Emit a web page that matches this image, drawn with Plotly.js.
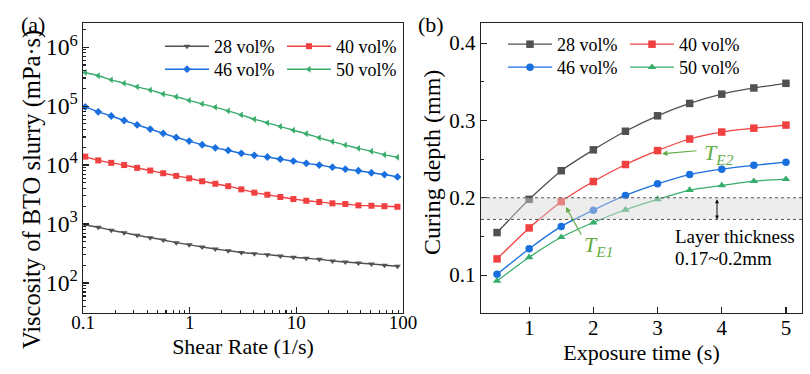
<!DOCTYPE html>
<html>
<head>
<meta charset="utf-8">
<script src="https://cdn.plot.ly/plotly-3.0.1.min.js"></script>
<style>html,body{margin:0;padding:0;background:#fff;}#chart{width:810px;height:374px;}</style>
</head>
<body>
<div id="chart"></div>
<script>
// ---------- Panel (a): viscosity vs shear rate ----------
const seriesNames = ["28 vol%", "40 vol%", "46 vol%", "50 vol%"];
const shearRate = [0.105, 0.139, 0.184, 0.243, 0.322, 0.427, 0.565, 0.748, 0.99, 1.31, 1.74, 2.30, 3.05, 4.04, 5.35, 7.08, 9.38, 12.4, 16.4, 21.8, 28.8, 38.2, 50.6, 67.0, 88.7];
const visc28 = [973, 879, 782, 713, 643, 586, 536, 482, 446, 407, 377, 352, 329, 314, 302, 287, 273, 262, 252, 236, 227, 218, 210, 200, 192];
const visc40 = [13900, 12000, 10900, 10000, 8970, 8070, 7260, 6560, 5960, 5310, 4820, 4380, 3870, 3400, 3140, 2870, 2650, 2480, 2360, 2240, 2180, 2070, 2040, 2000, 1960];
const visc46 = [97000, 80000, 68000, 57000, 48000, 40700, 34400, 29400, 25500, 22100, 19600, 17700, 15800, 14600, 13700, 12600, 11700, 10700, 10000, 9200, 8500, 8000, 7400, 6900, 6300];
const visc50 = [372000, 327000, 279000, 245000, 212000, 187000, 161000, 144000, 125000, 109000, 96000, 83000, 71000, 60000, 52000, 45000, 39000, 34000, 29000, 25000, 21800, 19200, 17100, 15000, 13500];

// ---------- Panel (b): curing depth vs exposure time ----------
const exposureTime = [0.5, 1, 1.5, 2, 2.5, 3, 3.5, 4, 4.5, 5];
const depth28 = [0.155, 0.198, 0.235, 0.262, 0.286, 0.306, 0.322, 0.334, 0.342, 0.348];
const depth40 = [0.121, 0.161, 0.195, 0.221, 0.243, 0.261, 0.276, 0.285, 0.290, 0.294];
const depth46 = [0.101, 0.134, 0.163, 0.184, 0.203, 0.218, 0.230, 0.237, 0.242, 0.246];
const depth50 = [0.0925, 0.123, 0.149, 0.168, 0.1845, 0.198, 0.210, 0.216, 0.2215, 0.224];
const layerThickness = [0.172, 0.2];

const colors = ["#515151", "#F14040", "#1A6FDF", "#37AD6B"];
const symbolsA = ["triangle-down", "square", "diamond", "triangle-left"];
const symbolsB = ["square", "square", "circle", "triangle-up"];
const annGreen = "#62AC45";
const FONT = "\"Liberation Serif\", \"Times New Roman\", serif";

const viscSeries = [visc28, visc40, visc46, visc50];
const depthSeries = [depth28, depth40, depth46, depth50];

const W = 810, H = 374;
// legend slots (pixel positions of each legend entry: left, top)
const legendSlotsA = [[160, 28], [282, 28], [160, 51], [282, 51]];
const legendSlotsB = [[503, 26], [625, 26], [503, 49], [625, 49]];

const traces = [];
const layoutLegends = {};
function legendDef(slot) {
  return {
    x: slot[0] / W, y: 1 - slot[1] / H, xanchor: "left", yanchor: "top",
    itemwidth: 44, bgcolor: "rgba(0,0,0,0)", borderwidth: 0,
    font: {size: 18, family: FONT, color: "#000"}
  };
}
viscSeries.forEach((ys, i) => {
  const lg = i === 0 ? "legend" : "legend" + (i + 1);
  layoutLegends[lg] = legendDef(legendSlotsA[i]);
  traces.push({
    x: shearRate, y: ys, type: "scatter", mode: "lines+markers",
    name: seriesNames[i], xaxis: "x", yaxis: "y", legend: lg,
    line: {color: colors[i], width: 1.4, shape: "spline", smoothing: 0.6},
    marker: {symbol: symbolsA[i], size: 6, color: colors[i]}
  });
});
depthSeries.forEach((ys, i) => {
  const lg = "legend" + (i + 5);
  layoutLegends[lg] = legendDef(legendSlotsB[i]);
  traces.push({
    x: exposureTime, y: ys, type: "scatter", mode: "lines+markers",
    name: seriesNames[i], xaxis: "x2", yaxis: "y2", legend: lg,
    line: {color: colors[i], width: 1.3, shape: "spline", smoothing: 0.5},
    marker: {symbol: symbolsB[i], size: 7.5, color: colors[i]}
  });
});

const axisCommon = {
  showgrid: false, zeroline: false, showline: true, mirror: true,
  linecolor: "#222", linewidth: 1.3, ticks: "inside", tickcolor: "#222",
  tickwidth: 1.2, ticklen: 6, automargin: false
};

const layout = Object.assign({
  width: W, height: H,
  margin: {l: 0, r: 0, t: 0, b: 0, autoexpand: false},
  paper_bgcolor: "#fff", plot_bgcolor: "#fff",
  font: {family: FONT, color: "#000", size: 19},
  showlegend: true,
  xaxis: Object.assign({}, axisCommon, {
    domain: [83 / W, 403 / W], anchor: "y", type: "log", range: [-1, 2],
    dtick: 1, tickfont: {size: 19, family: FONT, color: "#000"}, ticklabelstandoff: -8,
    minor: {ticks: "inside", ticklen: 3, tickcolor: "#222", showgrid: false},
    title: {text: "Shear Rate (1/s)", font: {size: 22, family: FONT, color: "#000"}, standoff: 6}
  }),
  yaxis: Object.assign({}, axisCommon, {
    domain: [1 - 313 / H, 1 - 23 / H], anchor: "x", type: "log", range: [1.49, 6.41],
    dtick: 1, exponentformat: "power", tickfont: {size: 19, family: FONT, color: "#000"},
    minor: {ticks: "inside", ticklen: 3, tickcolor: "#222", showgrid: false}
  }),
  xaxis2: Object.assign({}, axisCommon, {
    domain: [481 / W, 802 / W], anchor: "y2", range: [0.25, 5.25],
    tickvals: [1, 2, 3, 4, 5], tickfont: {size: 21, family: FONT, color: "#000"}, ticklabelstandoff: -5,
    title: {text: "Exposure time (s)", font: {size: 22, family: FONT, color: "#000"}, standoff: 5}
  }),
  yaxis2: Object.assign({}, axisCommon, {
    domain: [1 - 313 / H, 1 - 23 / H], anchor: "x2", range: [0.051, 0.426],
    tickvals: [0.1, 0.2, 0.3, 0.4], tickfont: {size: 21, family: FONT, color: "#000"},
    minor: {ticks: "inside", ticklen: 3, tickcolor: "#222", dtick: 0.05, showgrid: false}
  }),
  shapes: [
    {type: "rect", xref: "x2 domain", yref: "y2", x0: 0, x1: 1,
     y0: layerThickness[0], y1: layerThickness[1],
     fillcolor: "rgba(215,215,215,0.45)", line: {width: 0}, layer: "above"},
    {type: "line", xref: "x2 domain", yref: "y2", x0: 0, x1: 1,
     y0: layerThickness[1], y1: layerThickness[1],
     line: {color: "#555", width: 1, dash: "dot"}, layer: "above"},
    {type: "line", xref: "x2 domain", yref: "y2", x0: 0, x1: 1,
     y0: layerThickness[0], y1: layerThickness[0],
     line: {color: "#555", width: 1, dash: "dot"}, layer: "above"}
  ],
  annotations: [
    {text: "(a)", xref: "paper", yref: "paper", x: 19 / W, y: 1 - 24 / H,
     xanchor: "left", yanchor: "middle", showarrow: false, font: {size: 22, family: FONT}},
    {text: "(b)", xref: "paper", yref: "paper", x: 416 / W, y: 1 - 24 / H,
     xanchor: "left", yanchor: "middle", showarrow: false, font: {size: 22, family: FONT}},
    // y-axis titles
    {text: "Viscosity of BTO slurry (mPa·s)", xref: "paper", yref: "paper", x: 32 / W, y: 1 - 190 / H,
     xanchor: "center", yanchor: "middle", textangle: -90, showarrow: false, font: {size: 24.5, family: FONT}},
    {text: "Curing depth (mm)", xref: "paper", yref: "paper", x: 432 / W, y: 1 - 163 / H,
     xanchor: "center", yanchor: "middle", textangle: -90, showarrow: false, font: {size: 24, family: FONT}},
    // double arrow for layer thickness
    {xref: "x2", yref: "y2", x: 3.926, y: layerThickness[0], axref: "x2", ayref: "y2",
     ax: 3.926, ay: layerThickness[1], text: "", showarrow: true, arrowside: "end+start",
     arrowhead: 2, arrowsize: 0.8, arrowwidth: 1, arrowcolor: "#111"},
    {text: "Layer thickness", xref: "x2", yref: "y2", x: 3.24, y: 0.1493,
     xanchor: "left", yanchor: "middle", showarrow: false, font: {size: 19, family: FONT}},
    {text: "0.17~0.2mm", xref: "x2", yref: "y2", x: 3.24, y: 0.1221,
     xanchor: "left", yanchor: "middle", showarrow: false, font: {size: 19, family: FONT}},
    // T_E2 arrow + label
    {xref: "x2", yref: "y2", x: 3.07, y: 0.257, axref: "x2", ayref: "y2", ax: 3.63, ay: 0.261,
     text: "", showarrow: true, arrowhead: 2, arrowsize: 0.9, arrowwidth: 1.2, arrowcolor: annGreen},
    {text: "<i>T</i><sub><i>E2</i></sub>", xref: "x2", yref: "y2", x: 3.7, y: 0.257,
     xanchor: "left", yanchor: "middle", showarrow: false, font: {size: 22, family: FONT, color: annGreen}},
    // T_E1 arrow + label
    {xref: "x2", yref: "y2", x: 1.574, y: 0.188, axref: "x2", ayref: "y2", ax: 1.823, ay: 0.1505,
     text: "", showarrow: true, arrowhead: 2, arrowsize: 0.9, arrowwidth: 1.2, arrowcolor: annGreen},
    {text: "<i>T</i><sub><i>E1</i></sub>", xref: "x2", yref: "y2", x: 1.83, y: 0.137,
     xanchor: "left", yanchor: "middle", showarrow: false, font: {size: 22, family: FONT, color: annGreen}}
  ]
}, layoutLegends);

Plotly.newPlot("chart", traces, layout, {displayModeBar: false, staticPlot: true});
</script>
</body>
</html>
